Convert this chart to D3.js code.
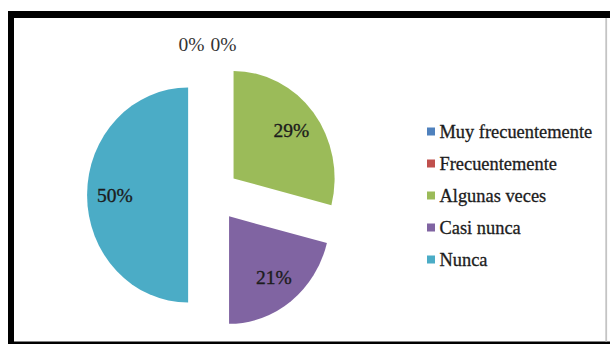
<!DOCTYPE html>
<html>
<head>
<meta charset="utf-8">
<script src="https://cdn.jsdelivr.net/npm/d3@7/dist/d3.min.js"></script>
<style>
  html, body { margin: 0; padding: 0; background: #fff; }
  svg { display: block; }
</style>
</head>
<body>
<svg id="chart" width="610" height="344"></svg>
<script>
// Survey answers and their shares (%)
const categories = ["Muy frecuentemente", "Frecuentemente", "Algunas veces", "Casi nunca", "Nunca"];
const values = [0, 0, 29, 21, 50];
const colors = ["#4F81BD", "#C0504D", "#9BBB59", "#8064A2", "#4BACC6"];
const valueLabels = values.map(v => v + "%");

const W = 610, H = 344;
const svg = d3.select("#chart");
const FONT = '"Liberation Serif"';

// Frame: thick black border on top, left and bottom, thin grey rule on the right
svg.append("rect").attr("x", 8).attr("y", 11).attr("width", W - 8).attr("height", H - 11).attr("fill", "#000");
svg.append("rect").attr("x", 14).attr("y", 18).attr("width", W - 14).attr("height", 341.5 - 18).attr("fill", "#fff");
svg.append("rect").attr("x", 605.3).attr("y", 18).attr("width", 1.8).attr("height", 341.5 - 18).attr("fill", "#c4c4c4");

// Pie geometry (slightly compressed horizontally)
const cx = 213.5, cy = 195, R = 107.5, sx = 0.94, explode = 27, labelR = 78;

const pie = d3.pie().sort(null).value(d => d);
const arcs = pie(values);
const arc = d3.arc().innerRadius(0).outerRadius(R);

const g = svg.append("g").attr("transform", `translate(${cx},${cy}) scale(${sx},1)`);

g.selectAll("path.slice")
  .data(arcs)
  .join("path")
  .attr("class", "slice")
  .attr("d", arc)
  .attr("fill", (d, i) => colors[i])
  .attr("transform", d => {
    const a = (d.startAngle + d.endAngle) / 2;
    return `translate(${Math.sin(a) * explode},${-Math.cos(a) * explode})`;
  });

// Labels inside the non-empty slices
const nonZero = arcs.filter(d => d.value > 0);
svg.selectAll("text.val")
  .data(nonZero)
  .join("text")
  .attr("class", "val")
  .attr("x", d => {
    const a = (d.startAngle + d.endAngle) / 2;
    return cx + sx * Math.sin(a) * (explode + labelR);
  })
  .attr("y", d => {
    const a = (d.startAngle + d.endAngle) / 2;
    return cy - Math.cos(a) * (explode + labelR);
  })
  .attr("text-anchor", "middle")
  .attr("dominant-baseline", "central")
  .style("font-family", FONT)
  .style("font-size", "19.5px")
  .attr("fill", "#1c1c1c")
  .attr("stroke", "#1c1c1c")
  .attr("stroke-width", 0.35)
  .text(d => valueLabels[d.index]);

// Empty slices: labels set side by side above the pie
const zero = arcs.filter(d => d.value === 0);
svg.selectAll("text.zero")
  .data(zero)
  .join("text")
  .attr("class", "zero")
  .attr("x", (d, i) => cx - 6 + (i - (zero.length - 1) / 2) * 32)
  .attr("y", d => cy - Math.cos(d.startAngle) * 150.5)
  .attr("text-anchor", "middle")
  .attr("dominant-baseline", "central")
  .style("font-family", FONT)
  .style("font-size", "19.5px")
  .attr("fill", "#333")
  .text(d => valueLabels[d.index]);

// Legend
const legendY = d3.scalePoint().domain(categories).range([131.5, 259.5]);
const items = svg.append("g").selectAll("g")
  .data(categories)
  .join("g")
  .attr("transform", d => `translate(427,${legendY(d)})`);
items.append("rect")
  .attr("x", 0).attr("y", -4).attr("width", 8).attr("height", 8)
  .attr("fill", (d, i) => colors[i]);
items.append("text")
  .attr("x", 12.5).attr("y", 0)
  .attr("dominant-baseline", "central")
  .style("font-family", FONT)
  .style("font-size", "18.4px")
  .attr("fill", "#1c1c1c")
  .attr("stroke", "#1c1c1c")
  .attr("stroke-width", 0.3)
  .text(d => d);
</script>
</body>
</html>
